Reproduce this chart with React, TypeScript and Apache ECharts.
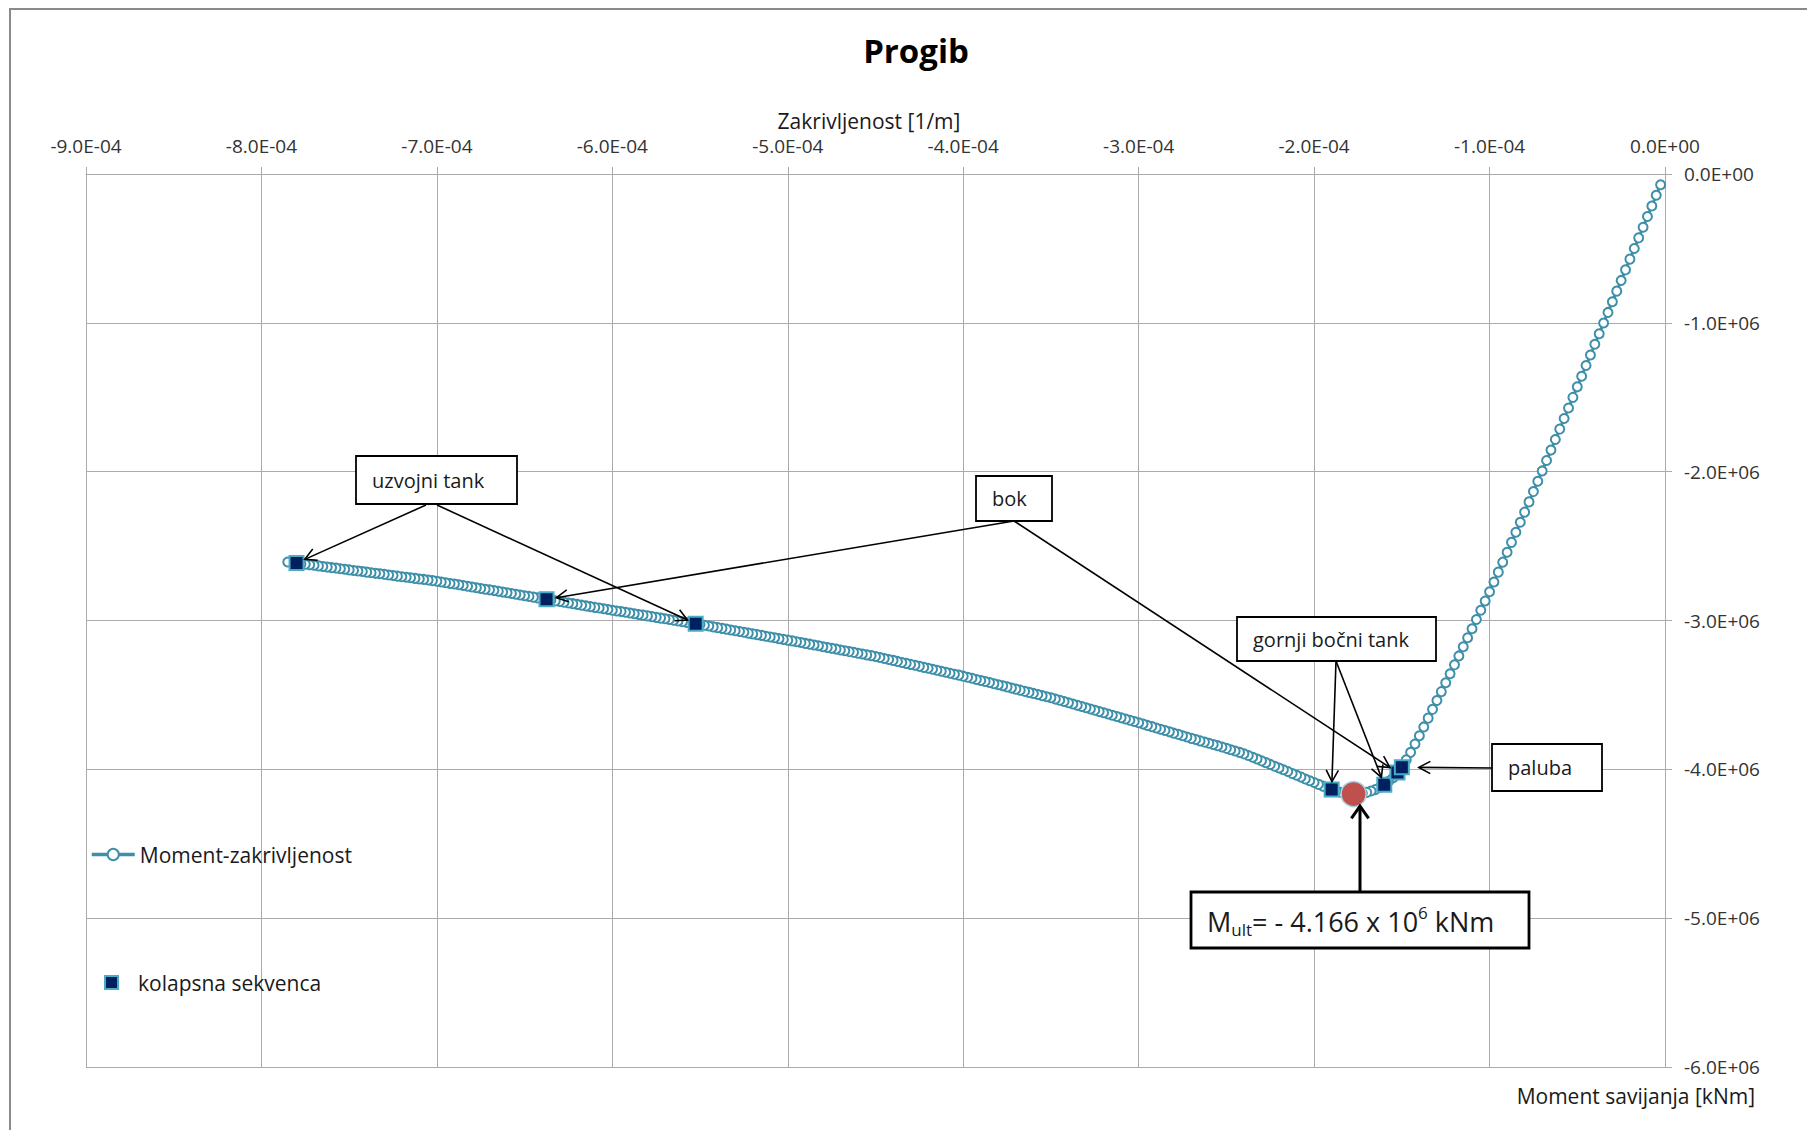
import React, { useEffect, useRef } from "react";
import * as echarts from "echarts";

// Curvature in units of 1e-6 1/m, bending moment in units of 1e3 kNm
const curvature = [
  -2.5, -5, -7.5, -10, -12.5, -15, -17.5, -20, -22.5, -25, -27.5, -30, -32.5, -35, -37.5, -40, -42.5, -45, -47.5, -50,
  -52.5, -55, -57.5, -60, -62.5, -65, -67.5, -70,
  -72.5, -75, -77.5, -80, -82.5, -85, -87.5, -90,
  -92.5, -95, -97.5, -100, -102.5, -105, -107.5, -110,
  -112.5, -115, -117.5, -120, -122.5, -125, -127.5, -130,
  -132.5, -135, -137.5, -140, -142.5, -145, -147.5, -150,
  -152.5, -155, -157.5, -160, -162.5, -165, -167.5, -170,
  -172.5, -175, -177.5, -180, -182.5, -185, -187.5, -190,
  -192.5, -195, -197.5, -200, -202.5, -205, -207.5, -210,
  -212.5, -215, -217.5, -220, -222.5, -225, -227.5, -230,
  -232.5, -235, -237.5, -240, -242.5, -245, -247.5, -250,
  -252.5, -255, -257.5, -260, -262.5, -265, -267.5, -270,
  -272.5, -275, -277.5, -280, -282.5, -285, -287.5, -290,
  -292.5, -295, -297.5, -300, -302.5, -305, -307.5, -310,
  -312.5, -315, -317.5, -320, -322.5, -325, -327.5, -330,
  -332.5, -335, -337.5, -340, -342.5, -345, -347.5, -350,
  -352.5, -355, -357.5, -360, -362.5, -365, -367.5, -370,
  -372.5, -375, -377.5, -380, -382.5, -385, -387.5, -390,
  -392.5, -395, -397.5, -400, -402.5, -405, -407.5, -410,
  -412.5, -415, -417.5, -420, -422.5, -425, -427.5, -430,
  -432.5, -435, -437.5, -440, -442.5, -445, -447.5, -450,
  -452.5, -455, -457.5, -460, -462.5, -465, -467.5, -470,
  -472.5, -475, -477.5, -480, -482.5, -485, -487.5, -490,
  -492.5, -495, -497.5, -500, -502.5, -505, -507.5, -510,
  -512.5, -515, -517.5, -520, -522.5, -525, -527.5, -530,
  -532.5, -535, -537.5, -540, -542.5, -545, -547.5, -550,
  -552.5, -555, -557.5, -560, -562.5, -565, -567.5, -570,
  -572.5, -575, -577.5, -580, -582.5, -585, -587.5, -590,
  -592.5, -595, -597.5, -600, -602.5, -605, -607.5, -610,
  -612.5, -615, -617.5, -620, -622.5, -625, -627.5, -630,
  -632.5, -635, -637.5, -640, -642.5, -645, -647.5, -650,
  -652.5, -655, -657.5, -660, -662.5, -665, -667.5, -670,
  -672.5, -675, -677.5, -680, -682.5, -685, -687.5, -690,
  -692.5, -695, -697.5, -700, -702.5, -705, -707.5, -710,
  -712.5, -715, -717.5, -720, -722.5, -725, -727.5, -730,
  -732.5, -735, -737.5, -740, -742.5, -745, -747.5, -750,
  -752.5, -755, -757.5, -760, -762.5, -765, -767.5, -770,
  -772.5, -775, -777.5, -780, -782.5, -785,
];

const moment = [
  -72, -143, -215, -286, -358, -429, -501, -572, -644, -715, -787, -858, -930, -1001, -1073, -1144, -1216, -1287, -1359, -1430,
  -1501, -1572, -1643, -1714, -1784, -1855, -1925, -1995,
  -2064, -2134, -2203, -2272, -2340, -2407, -2475, -2542,
  -2608, -2675, -2741, -2807, -2869, -2931, -2993, -3055,
  -3116, -3177, -3238, -3298, -3358, -3418, -3478, -3538,
  -3597, -3656, -3715, -3774, -3830, -3886, -3936, -3986,
  -4021, -4056, -4080, -4104, -4120, -4136, -4146, -4155,
  -4161, -4165, -4166, -4164, -4160, -4154, -4146, -4136,
  -4125, -4113, -4101, -4089, -4077, -4065, -4052, -4040,
  -4028, -4015, -4003, -3991, -3979, -3967, -3955, -3943,
  -3931, -3919, -3907, -3896, -3886, -3877, -3868, -3859,
  -3850, -3841, -3833, -3825, -3817, -3809, -3800, -3792,
  -3783, -3774, -3765, -3757, -3748, -3739, -3731, -3722,
  -3713, -3705, -3696, -3687, -3679, -3670, -3662, -3654,
  -3645, -3637, -3628, -3620, -3612, -3603, -3595, -3586,
  -3578, -3570, -3561, -3553, -3544, -3536, -3528, -3519,
  -3512, -3505, -3497, -3490, -3483, -3476, -3468, -3461,
  -3454, -3446, -3439, -3432, -3425, -3417, -3410, -3403,
  -3396, -3388, -3381, -3374, -3367, -3361, -3354, -3348,
  -3341, -3334, -3328, -3321, -3315, -3308, -3301, -3295,
  -3288, -3282, -3275, -3268, -3262, -3255, -3249, -3242,
  -3236, -3231, -3225, -3220, -3214, -3209, -3203, -3198,
  -3192, -3187, -3181, -3176, -3170, -3165, -3159, -3154,
  -3148, -3143, -3137, -3132, -3127, -3122, -3116, -3111,
  -3106, -3100, -3095, -3090, -3085, -3079, -3074, -3069,
  -3064, -3058, -3053, -3048, -3043, -3037, -3032, -3027,
  -3022, -3017, -3013, -3008, -3003, -2998, -2993, -2988,
  -2984, -2979, -2974, -2969, -2964, -2960, -2955, -2950,
  -2945, -2940, -2936, -2931, -2926, -2921, -2916, -2912,
  -2907, -2902, -2897, -2892, -2887, -2882, -2877, -2872,
  -2868, -2863, -2858, -2853, -2848, -2843, -2838, -2834,
  -2829, -2824, -2819, -2814, -2809, -2804, -2799, -2794,
  -2790, -2785, -2780, -2775, -2770, -2765, -2760, -2755,
  -2751, -2746, -2741, -2736, -2732, -2728, -2724, -2721,
  -2717, -2713, -2709, -2706, -2702, -2698, -2694, -2690,
  -2686, -2683, -2679, -2675, -2671, -2667, -2664, -2660,
  -2656, -2652, -2648, -2645, -2641, -2637, -2633, -2629,
  -2626, -2622, -2618, -2614, -2610, -2607,
];

// Collapse sequence points (uzvojni, bok, uzvojni, gornji, gornji, paluba, paluba)
const collapseCurvature = [-780, -637.5, -552.5, -190, -160, -152.5, -150];
const collapseMoment = [-2614, -2858, -3022, -4136, -4104, -4021, -3986];

// Ultimate moment point
const ultimateCurvature = [-177.5];
const ultimateMoment = [-4166];

const seriesNames = ["Moment-zakrivljenost", "kolapsna sekvenca"];

const FONT = "'Open Sans', 'Noto Sans', sans-serif";
const TEAL = "#3E8FA9";
const GRID = "#ABABAB";
const TEXT = "#1a1a1a";

function fmtExp(v: number): string {
  if (Math.abs(v) < 1e-15) return "0.0E+00";
  const s = v.toExponential(1);
  const [m, e] = s.split("e");
  const sign = e[0] === "-" ? "-" : "+";
  const digits = e.replace(/^[+-]/, "").padStart(2, "0");
  return `${m}E${sign}${digits}`;
}

function arrow(sx: number, sy: number, tx: number, ty: number, lw: number, len: number, ang: number) {
  const dx = tx - sx;
  const dy = ty - sy;
  const L = Math.hypot(dx, dy) || 1;
  const ux = dx / L;
  const uy = dy / L;
  const a = (ang * Math.PI) / 180;
  const rot = (t: number) => [ux * Math.cos(t) - uy * Math.sin(t), ux * Math.sin(t) + uy * Math.cos(t)];
  const [r1x, r1y] = rot(a);
  const [r2x, r2y] = rot(-a);
  return [
    { type: "line", z: 100, shape: { x1: sx, y1: sy, x2: tx, y2: ty }, style: { stroke: "#000", lineWidth: lw } },
    {
      type: "polyline",
      z: 100,
      shape: { points: [[tx - len * r1x, ty - len * r1y], [tx, ty], [tx - len * r2x, ty - len * r2y]] },
      style: { stroke: "#000", lineWidth: lw, fill: null },
    },
  ];
}

export default function App() {
  const ref = useRef<HTMLDivElement>(null);

  useEffect(() => {
    const el = ref.current;
    if (!el) return;
    const chart = echarts.init(el, undefined, { renderer: "svg" });

    const curveData = curvature.map((c, i) => [c * 1e-6, moment[i] * 1e3]);
    const collapseData = collapseCurvature.map((c, i) => [c * 1e-6, collapseMoment[i] * 1e3]);
    const ultData = ultimateCurvature.map((c, i) => [c * 1e-6, ultimateMoment[i] * 1e3]);

    const legendBase = {
      orient: "vertical",
      left: 90,
      itemWidth: 43,
      itemHeight: 14,
      padding: 0,
      selectedMode: false,
      textStyle: { fontSize: 21, color: TEXT, fontFamily: FONT },
    };

    chart.setOption({
      animation: false,
      backgroundColor: "#ffffff",
      textStyle: { fontFamily: FONT },
      grid: { left: 86, right: 142, top: 174, bottom: 63, containLabel: false },
      legend: [
        {
          ...legendBase,
          data: [seriesNames[0]],
          top: 844,
          lineStyle: { color: TEAL, width: 3.5 },
          itemStyle: { color: "#fff", borderColor: TEAL, borderWidth: 2 },
        },
        {
          ...legendBase,
          data: [{ name: seriesNames[1], icon: "path://M0,0L10,0L10,10L0,10Z" }],
          symbolKeepAspect: true,
          itemHeight: 13,
          left: 104,
          top: 972,
        },
      ],
      xAxis: {
        type: "value",
        position: "top",
        min: -9e-4,
        max: 0,
        interval: 1e-4,
        axisLine: { show: true, onZero: false, lineStyle: { color: GRID, width: 1 } },
        axisTick: { show: true, length: 7, lineStyle: { color: GRID, width: 1 } },
        splitLine: { show: true, lineStyle: { color: GRID, width: 1 } },
        axisLabel: { formatter: fmtExp, fontSize: 19, color: "#333", margin: 19, fontFamily: FONT },
      },
      yAxis: {
        type: "value",
        position: "right",
        min: -6e6,
        max: 0,
        interval: 1e6,
        axisLine: { show: true, onZero: false, lineStyle: { color: GRID, width: 1 } },
        axisTick: { show: true, length: 7, lineStyle: { color: GRID, width: 1 } },
        splitLine: { show: true, lineStyle: { color: GRID, width: 1 } },
        axisLabel: { formatter: fmtExp, fontSize: 19, color: "#333", margin: 19, fontFamily: FONT },
      },
      series: [
        {
          name: seriesNames[0],
          type: "line",
          data: curveData,
          showAllSymbol: true,
          symbol: "circle",
          symbolSize: 9,
          lineStyle: { color: TEAL, width: 3 },
          itemStyle: { color: "#fff", borderColor: TEAL, borderWidth: 2 },
          z: 2,
        },
        {
          name: seriesNames[1],
          type: "scatter",
          data: collapseData,
          symbol: "rect",
          symbolSize: 14,
          itemStyle: { color: "#002060", borderColor: "#4BACC6", borderWidth: 2, opacity: 1 },
          z: 3,
        },
        {
          name: "Mult",
          type: "scatter",
          data: ultData,
          symbol: "circle",
          symbolSize: 25,
          itemStyle: { color: "#C0504D", borderColor: "#a9d3e3", borderWidth: 1.5, opacity: 1 },
          z: 4,
        },
      ],
    });

    const toPx = (c: number, m: number) =>
      chart.convertToPixel({ gridIndex: 0 }, [c * 1e-6, m * 1e3]) as number[];
    const sq = collapseCurvature.map((c, i) => toPx(c, collapseMoment[i]));
    const ult = toPx(ultimateCurvature[0], ultimateMoment[0]);

    const annotations = [
      { text: "uzvojni tank", box: [356, 456, 161, 48], links: [{ from: [426, 505], target: 0, off: 9 }, { from: [437, 505], target: 2, off: 9 }] },
      { text: "bok", box: [976, 476, 76, 45], links: [{ from: [1014, 521], target: 1, off: 10 }, { from: [1014, 521], target: 5, off: 9 }] },
      { text: "gornji bočni tank", box: [1237, 617, 199, 44], links: [{ from: [1336, 661], target: 3, off: 8 }, { from: [1336, 661], target: 4, off: 8 }] },
      { text: "paluba", box: [1492, 744, 110, 47], links: [{ from: [1492, 768], target: 6, off: 17 }] },
    ];

    const elements: any[] = [
      {
        type: "rect",
        z: 100,
        shape: { x: 10, y: 9, width: 1900, height: 1200 },
        style: { fill: null, stroke: "#8a8a8a", lineWidth: 2 },
        silent: true,
      },
      {
        type: "text",
        z: 100,
        x: 916,
        y: 50,
        style: { text: "Progib", fontSize: 33, fontWeight: "bold", fontFamily: FONT, fill: "#000", align: "center", verticalAlign: "middle" },
      },
      {
        type: "text",
        z: 100,
        x: 869,
        y: 121,
        style: { text: "Zakrivljenost [1/m]", fontSize: 21, fontFamily: FONT, fill: TEXT, align: "center", verticalAlign: "middle" },
      },
      {
        type: "text",
        z: 100,
        x: 1755,
        y: 1096,
        style: { text: "Moment savijanja [kNm]", fontSize: 21, fontFamily: FONT, fill: TEXT, align: "right", verticalAlign: "middle" },
      },
    ];

    annotations.forEach((a) => {
      const [bx, by, bw, bh] = a.box;
      a.links.forEach((l) => {
        const [cx, cy] = sq[l.target];
        const [fx, fy] = l.from;
        const d = Math.hypot(fx - cx, fy - cy) || 1;
        const tx = cx + ((fx - cx) / d) * l.off;
        const ty = cy + ((fy - cy) / d) * l.off;
        elements.push(...arrow(fx, fy, tx, ty, 1.6, 13, 28));
      });
      elements.push({
        type: "rect",
        z: 101,
        shape: { x: bx, y: by, width: bw, height: bh },
        style: { fill: "#fff", stroke: "#000", lineWidth: 1.8 },
      });
      elements.push({
        type: "text",
        z: 102,
        x: bx + 16,
        y: by + bh / 2,
        style: { text: a.text, fontSize: 20, fontFamily: FONT, fill: TEXT, align: "left", verticalAlign: "middle" },
      });
    });

    // Mult annotation
    const mBox = [1191, 892, 338, 56];
    elements.push(...arrow(1360, mBox[1], 1360, ult[1] + 12, 3, 15, 35));
    elements.push({
      type: "rect",
      z: 101,
      shape: { x: mBox[0], y: mBox[1], width: mBox[2], height: mBox[3] },
      style: { fill: "#fff", stroke: "#000", lineWidth: 2.8 },
    });
    elements.push({
      type: "text",
      z: 102,
      x: mBox[0] + 16,
      y: mBox[1] + mBox[3] / 2 + 1,
      style: {
        text: "{m|M}{s|ult}{m|= - 4.166 x 10}{p|6}{m| kNm}",
        align: "left",
        verticalAlign: "middle",
        rich: {
          m: { fontSize: 27, fontFamily: FONT, fill: TEXT, lineHeight: 34, verticalAlign: "middle" },
          s: { fontSize: 17, fontFamily: FONT, fill: TEXT, lineHeight: 20, verticalAlign: "bottom" },
          p: { fontSize: 17, fontFamily: FONT, fill: TEXT, lineHeight: 26, verticalAlign: "top" },
        },
      },
    });

    chart.setOption({ graphic: elements });

    return () => {
      chart.dispose();
    };
  }, []);

  return (
    <div
      ref={ref}
      style={{ position: "absolute", left: 0, top: 0, width: 1807, height: 1130, background: "#fff" }}
    />
  );
}
